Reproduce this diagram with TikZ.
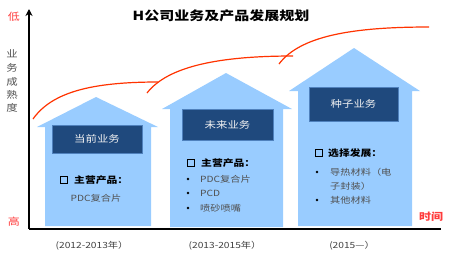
\documentclass[tikz,border=0pt]{standalone}
\usepackage{fontspec}
\setmainfont{Noto Sans CJK SC}[FakeStretch=1.2]
\usetikzlibrary{arrows.meta}
\definecolor{housebl}{HTML}{99CCFF}
\definecolor{boxbl}{HTML}{1F497D}
\definecolor{boxedge}{HTML}{4F81BD}
\definecolor{curvered}{HTML}{FF3300}
\definecolor{labred}{HTML}{FF3B3B}
\definecolor{txtgray}{HTML}{505050}
\tikzset{
  house/.style={fill=housebl, draw=none},
  darkbox/.style={fill=boxbl, draw=boxedge, line width=0.6pt},
  boxtext/.style={text=white!90!gray, font=\fontsize{9.5}{10}\selectfont, inner sep=0pt},
  headtext/.style={text=black, font=\bfseries\fontsize{9}{10}\selectfont, anchor=west, inner sep=0pt},
  itemtext/.style={text=txtgray, font=\fontsize{8.5}{10}\selectfont, anchor=west, inner sep=0pt},
  checkbox/.style={draw=black, line width=1.3pt, minimum size=6.5pt, inner sep=0pt},
  bulletdot/.style={circle, fill=black, minimum size=2.6pt, inner sep=0pt},
  axis/.style={line width=1.6pt, black},
  growth/.style={curvered, line width=1.2pt},
  redlab/.style={text=labred, font=\fontsize{10}{10}\selectfont, inner sep=0pt},
  vlab/.style={text=txtgray, font=\fontsize{9.5}{10}\selectfont, inner sep=0pt},
  yearlab/.style={text=txtgray!80!black, font=\fontsize{8.5}{10}\selectfont, inner sep=0pt}
}
\begin{document}
\begin{tikzpicture}[x=1pt,y=-1pt]
\useasboundingbox (0,0) rectangle (450,258);
% houses
\fill[house] (37,127) -- (96,97) -- (158,127) -- (151,127) -- (151,226) -- (45,226) -- (45,127) -- cycle;
\fill[house] (162,109) -- (226,73) -- (292,109) -- (283,109) -- (283,227) -- (170,227) -- (170,109) -- cycle;
\fill[house] (289,91) -- (354,48) -- (420,91) -- (412,91) -- (412,226) -- (298,226) -- (298,91) -- cycle;
% dark boxes
\node[darkbox, minimum width=90pt, minimum height=28pt] (b1) at (97,139) {};
\node[boxtext] (b1t) at (b1) {当前业务};
\node[darkbox, minimum width=91pt, minimum height=31pt] (b2) at (227.5,124.5) {};
\node[boxtext] (b2t) at (b2) {未来业务};
\node[darkbox, minimum width=89pt, minimum height=34pt] (b3) at (353.5,104) {};
\node[boxtext] (b3t) at (b3) {种子业务};
% house 1 text
\node[checkbox] (c1) at (64,180) {};
\node[headtext] (h1) at (74,180) {主营产品：};
\node[itemtext, anchor=center] (i11) at (96,198) {PDC复合片};
% house 2 text
\node[checkbox] (c2) at (191,163) {};
\node[headtext] (h2) at (201,163) {主营产品：};
\node[bulletdot] (d21) at (188,179) {};
\node[itemtext] (i21) at (200,179) {PDC复合片};
\node[bulletdot] (d22) at (188,193) {};
\node[itemtext] (i22) at (200,193) {PCD};
\node[bulletdot] (d23) at (188,208) {};
\node[itemtext] (i23) at (200,208) {喷砂喷嘴};
% house 3 text
\node[checkbox] (c3) at (319,153) {};
\node[headtext] (h3) at (328,153) {选择发展：};
\node[bulletdot] (d31) at (317,172) {};
\node[itemtext] (i31) at (330,172) {导热材料（电};
\node[itemtext] (i32) at (330,186) {子封装）};
\node[bulletdot] (d32) at (317,200) {};
\node[itemtext] (i33) at (330,200) {其他材料};
% axes
\coordinate (origin) at (29,229);
\coordinate (ytop) at (29,9);
\coordinate (xend) at (441,229);
\draw[axis, -{Stealth[length=7pt,width=7pt]}] (origin) -- (ytop);
\draw[axis] (origin) -- (xend);
% growth curves
\coordinate (g1a) at (33,119); \coordinate (g1b) at (158,82);
\coordinate (g2a) at (147,93); \coordinate (g2b) at (293,56);
\coordinate (g3a) at (279,64); \coordinate (g3b) at (429,27);
\draw[growth] (g1a) .. controls (52,92) and (92,82) .. (g1b);
\draw[growth] (g2a) .. controls (168,66) and (220,56) .. (g2b);
\draw[growth] (g3a) .. controls (300,36) and (352,27) .. (g3b);
% labels
\node[font=\bfseries\fontsize{12.5}{14}\selectfont, inner sep=0pt] (title) at (221,16) {H公司业务及产品发展规划};
\node[redlab] (low) at (14,17) {低};
\node[redlab] (high) at (14,222) {高};
\node[redlab, font=\bfseries\fontsize{10}{10}\selectfont] (time) at (431,217) {时间};
\node[vlab] (v1) at (12,54) {业};
\node[vlab] (v2) at (12,68) {务};
\node[vlab] (v3) at (12,82) {成};
\node[vlab] (v4) at (12,95) {熟};
\node[vlab] (v5) at (12,108) {度};
\node[yearlab] (y1) at (92,246) {(2012-2013年）};
\node[yearlab] (y2) at (225,246) {(2013-2015年）};
\node[yearlab] (y3) at (352,246) {(2015—）};
\end{tikzpicture}
\end{document}
